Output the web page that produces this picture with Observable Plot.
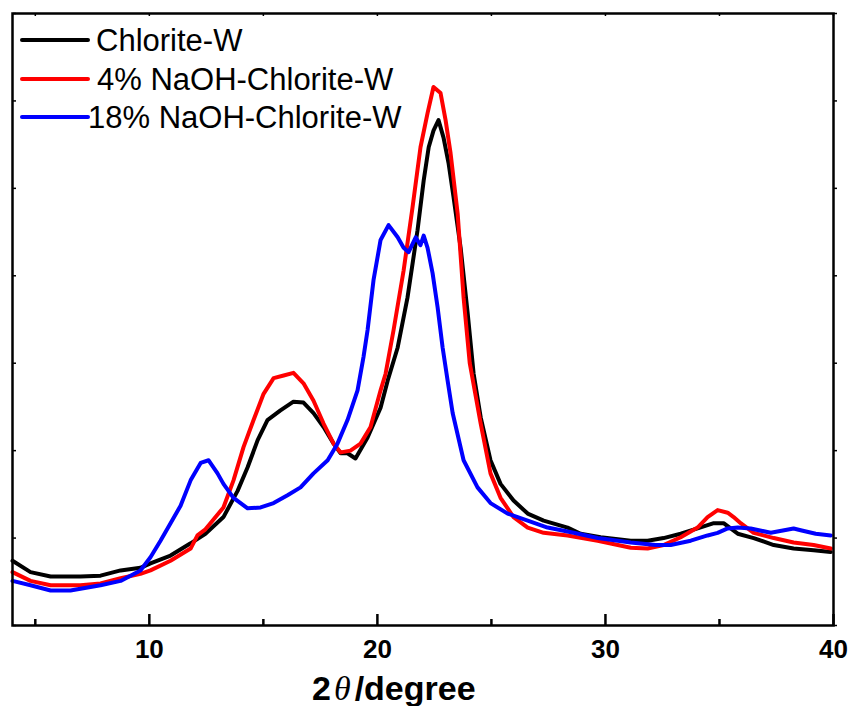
<!DOCTYPE html>
<html>
<head>
<meta charset="utf-8">
<script src="https://cdn.jsdelivr.net/npm/d3@7"></script>
<script src="https://cdn.jsdelivr.net/npm/@observablehq/plot@0.6"></script>
<style>
  body { margin: 0; background: #fff; }
  #chart svg { display: block; }
</style>
</head>
<body>
<div id="chart"></div>
<script>
// ---- Data (2θ in degrees, intensity in arbitrary units) ----
const seriesNames = ["Chlorite-W", "4% NaOH-Chlorite-W", "18% NaOH-Chlorite-W"];
const seriesColors = ["#000000", "#ff0000", "#0000ff"];

const chloriteX = [4.00,4.79,5.67,6.98,7.86,8.74,9.61,10.05,10.93,11.81,12.46,13.25,13.87,14.31,14.75,15.18,15.75,16.32,16.76,17.20,17.64,18.08,18.39,18.69,19.04,19.57,20.14,20.45,20.89,21.32,21.76,22.03,22.25,22.46,22.68,22.90,23.12,23.34,23.65,23.96,24.22,24.53,24.96,25.40,25.97,26.59,27.29,28.34,28.91,29.79,31.11,31.85,32.55,33.30,34.04,34.75,35.18,35.80,36.50,37.38,38.25,39.13,39.88];
const chloriteY = [0.74,0.61,0.56,0.56,0.57,0.63,0.66,0.71,0.80,0.94,1.05,1.24,1.54,1.81,2.12,2.35,2.46,2.56,2.55,2.43,2.27,2.08,1.97,1.97,1.91,2.15,2.49,2.80,3.18,3.75,4.52,5.09,5.47,5.66,5.78,5.58,5.29,4.90,4.32,3.57,2.88,2.38,1.89,1.62,1.43,1.28,1.20,1.12,1.05,1.01,0.97,0.97,1.00,1.05,1.11,1.17,1.17,1.05,1.00,0.92,0.88,0.86,0.84];

const naoh4X = [4.00,4.79,5.67,6.98,7.86,8.74,9.61,10.05,10.93,11.81,12.11,12.46,13.25,13.69,14.13,14.57,15.01,15.45,15.89,16.32,16.76,17.20,17.64,18.08,18.39,18.82,19.26,19.70,20.14,20.36,20.71,21.15,21.54,21.89,22.20,22.46,22.77,22.99,23.21,23.52,23.78,24.05,24.53,24.96,25.40,25.97,26.59,27.29,28.34,29.66,31.11,31.85,32.55,33.30,34.04,34.48,34.92,35.36,35.62,35.93,36.50,37.38,38.25,39.13,39.88];
const naoh4Y = [0.61,0.51,0.46,0.46,0.48,0.54,0.59,0.63,0.74,0.88,1.03,1.10,1.35,1.66,2.04,2.35,2.65,2.83,2.86,2.89,2.77,2.57,2.31,2.08,1.98,2.00,2.08,2.27,2.69,2.88,3.38,4.06,4.78,5.47,5.86,6.16,6.09,5.78,5.40,4.71,3.75,3.00,2.31,1.74,1.46,1.24,1.12,1.06,1.03,0.97,0.89,0.88,0.92,1.01,1.12,1.24,1.32,1.29,1.24,1.17,1.06,1.00,0.95,0.92,0.88];

const naoh18X = [4.00,4.79,5.67,6.54,7.86,8.74,9.61,10.05,10.49,10.93,11.37,11.81,12.25,12.60,12.99,13.25,13.69,14.31,14.88,15.45,16.06,16.63,17.20,17.82,18.25,18.69,19.13,19.39,19.57,19.83,20.14,20.49,20.89,21.15,21.37,21.68,21.89,22.03,22.20,22.42,22.64,22.86,23.08,23.30,23.78,24.39,24.96,25.71,26.59,27.46,28.61,29.66,31.11,32.20,32.86,33.74,34.48,34.92,35.36,35.80,36.37,37.25,38.25,38.56,39.22,39.88];
const naoh18Y = [0.51,0.46,0.40,0.40,0.46,0.51,0.63,0.78,0.97,1.17,1.37,1.66,1.86,1.89,1.74,1.62,1.46,1.34,1.35,1.40,1.49,1.58,1.74,1.89,2.08,2.35,2.69,3.07,3.38,3.95,4.41,4.58,4.44,4.32,4.27,4.44,4.35,4.46,4.32,4.03,3.64,3.18,2.80,2.43,1.89,1.58,1.40,1.28,1.20,1.12,1.06,1.00,0.95,0.92,0.92,0.97,1.03,1.06,1.11,1.12,1.11,1.06,1.11,1.09,1.05,1.03];

const xMajorTicks = [10, 20, 30, 40];
const xMinorTicks = [5, 15, 25, 35];
const yTicks = [0, 1, 2, 3, 4, 5, 6, 7];
const xDomain = [4, 40];
const yDomain = [0, 7];
const xLabelParts = ["2", "θ", "/degree"];

// ---- Build table ----
const rows = [];
[[chloriteX, chloriteY], [naoh4X, naoh4Y], [naoh18X, naoh18Y]].forEach(([xs, ys], i) => {
  xs.forEach((x, j) => rows.push({series: seriesNames[i], x, y: ys[j]}));
});

const font = "Arial, 'Liberation Sans', sans-serif";

const chart = Plot.plot({
  width: 850,
  height: 706,
  marginLeft: 12,
  marginRight: 17,
  marginTop: 13,
  marginBottom: 81,
  style: {fontFamily: font, background: "#fff", color: "#000"},
  x: {domain: xDomain},
  y: {domain: yDomain},
  color: {domain: seriesNames, range: seriesColors},
  marks: [
    ...seriesNames.map(name => Plot.line(rows.filter(d => d.series === name), {
      x: "x", y: "y", stroke: "series", strokeWidth: 4, strokeLinejoin: "round", strokeLinecap: "round"
    })),
    Plot.axisX({anchor: "top", frameAnchor: "bottom", ticks: xMajorTicks, tickSize: 12, tickFormat: () => "", label: null, strokeWidth: 2.5}),
    Plot.axisX({anchor: "top", frameAnchor: "bottom", ticks: xMinorTicks, tickSize: 7, tickFormat: () => "", label: null, strokeWidth: 2.5}),
    Plot.axisX({anchor: "bottom", frameAnchor: "top", ticks: xMajorTicks.concat(xMinorTicks), tickSize: 3, tickFormat: () => "", label: null, strokeWidth: 1.5}),
    Plot.axisX({anchor: "bottom", ticks: xMajorTicks, tickSize: 0, tickPadding: 14, label: null, fontSize: 26, fontWeight: "bold", tickFormat: d => String(d)}),
    Plot.axisY({anchor: "right", frameAnchor: "left", ticks: yTicks, tickSize: 3, tickFormat: () => "", label: null, strokeWidth: 1.5}),
    Plot.axisY({anchor: "right", ticks: yTicks, tickSize: 3, tickFormat: () => "", label: null, strokeWidth: 1.5}),
    Plot.frame({stroke: "#000", strokeWidth: 2.5})
  ]
});

const svg = d3.select(chart);

// axis title with italic theta
const title = svg.append("text")
  .attr("x", 312).attr("y", 700)
  .attr("text-anchor", "start")
  .attr("font-family", font)
  .attr("font-size", 34)
  .attr("font-weight", "bold")
  .attr("fill", "#000");
title.append("tspan").text(xLabelParts[0]);
title.append("tspan").attr("dx", 3).attr("font-family", "'Liberation Serif', 'DejaVu Serif', serif").attr("font-style", "italic").attr("font-weight", "normal").text(xLabelParts[1]);
title.append("tspan").attr("dx", 4).text(xLabelParts[2]);

// legend
const legendY = [40, 79, 117];
const legendTextX = [96, 97, 88];
const lg = svg.append("g").attr("text-anchor", "start");
seriesNames.forEach((name, i) => {
  lg.append("line")
    .attr("x1", 22).attr("x2", 88)
    .attr("y1", legendY[i]).attr("y2", legendY[i])
    .attr("stroke", seriesColors[i]).attr("stroke-width", 4).attr("stroke-linecap", "round");
  lg.append("text")
    .attr("x", legendTextX[i]).attr("y", legendY[i] + 11)
    .attr("text-anchor", "start")
    .attr("font-family", font).attr("font-size", 31)
    .attr("fill", "#000")
    .text(name);
});

document.getElementById("chart").appendChild(chart);
</script>
</body>
</html>
